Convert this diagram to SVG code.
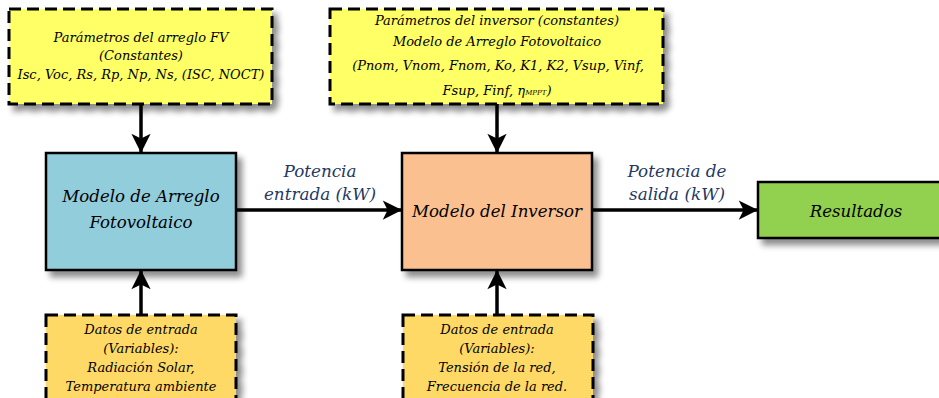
<svg xmlns="http://www.w3.org/2000/svg" width="939" height="398" viewBox="0 0 939 398">
<defs>
<filter id="sh" x="-10%" y="-10%" width="130%" height="140%">
<feGaussianBlur in="SourceAlpha" stdDeviation="3"/>
<feOffset dx="5" dy="6" result="b"/>
<feComponentTransfer><feFuncA type="linear" slope="0.45"/></feComponentTransfer>
<feMerge><feMergeNode/><feMergeNode in="SourceGraphic"/></feMerge>
</filter>
<marker id="ah" viewBox="0 0 10 10" refX="10" refY="5" markerWidth="6" markerHeight="5.5" markerUnits="strokeWidth" orient="auto">
<path d="M0,0 L10,5 L0,10 L2.5,5 Z" fill="#000"/>
</marker>
<style>
text{font-family:'DejaVu Serif','Liberation Serif',serif;font-style:italic;text-anchor:middle}
.s{font-size:13px;fill:#000}
.m{font-size:16.6px;fill:#000}
.lbl{fill:#1F3864;font-size:16.8px}
.dash{stroke:#000;stroke-width:3;stroke-dasharray:12 6}
.solid{stroke:#000;stroke-width:2.5}
.c{stroke:#000;stroke-width:3.5;fill:none;marker-end:url(#ah)}
</style>
</defs>
<rect width="939" height="398" fill="#fff"/>
<g id="pv-params">
<rect x="9" y="9" width="263" height="95" fill="#FFFF66" class="dash" filter="url(#sh)"/>
<text class="s" x="141" y="42">Parámetros del arreglo FV</text>
<text class="s" x="141" y="60">(Constantes)</text>
<text class="s" x="141" y="79">Isc, Voc, Rs, Rp, Np, Ns, (ISC, NOCT)</text>
</g>
<g id="inv-params">
<rect x="330" y="9" width="333" height="95" fill="#FFFF66" class="dash" filter="url(#sh)"/>
<text class="s" x="497" y="25">Parámetros del inversor (constantes)</text>
<text class="s" x="497" y="46">Modelo de Arreglo Fotovoltaico</text>
<text class="s" x="498" y="70">(Pnom, Vnom, Fnom, Ko, K1, K2, Vsup, Vinf,</text>
<text class="s" x="497" y="95">Fsup, Finf, η<tspan font-size="7">MPPT</tspan>)</text>
</g>
<g id="pv-model">
<rect x="46" y="153" width="190" height="117" fill="#92CDDC" class="solid" filter="url(#sh)"/>
<text class="m" x="141" y="202">Modelo de Arreglo</text>
<text class="m" x="141" y="228">Fotovoltaico</text>
</g>
<g id="inv-model">
<rect x="402" y="153" width="190" height="117" fill="#FAC090" class="solid" filter="url(#sh)"/>
<text class="m" x="497" y="217">Modelo del Inversor</text>
</g>
<g id="results">
<rect x="758" y="182" width="190" height="56" fill="#92D050" class="solid" filter="url(#sh)"/>
<text class="m" x="856" y="217">Resultados</text>
</g>
<g id="pv-inputs">
<rect x="46" y="315" width="190" height="95" fill="#FFD966" class="dash" filter="url(#sh)"/>
<text class="s" x="141" y="334">Datos de entrada</text>
<text class="s" x="141" y="353">(Variables):</text>
<text class="s" x="141" y="372">Radiación Solar,</text>
<text class="s" x="141" y="391">Temperatura ambiente</text>
</g>
<g id="inv-inputs">
<rect x="403" y="315" width="190" height="95" fill="#FFD966" class="dash" filter="url(#sh)"/>
<text class="s" x="497" y="334">Datos de entrada</text>
<text class="s" x="497" y="353">(Variables):</text>
<text class="s" x="497" y="372">Tensión de la red,</text>
<text class="s" x="497" y="391">Frecuencia de la red.</text>
</g>
<g id="connectors">
<line class="c" x1="141" y1="104" x2="141" y2="153"/>
<line class="c" x1="497" y1="104" x2="497" y2="153"/>
<line class="c" x1="141" y1="315" x2="141" y2="270"/>
<line class="c" x1="497" y1="315" x2="497" y2="270"/>
<line class="c" x1="236" y1="210" x2="402" y2="210"/>
<line class="c" x1="592" y1="210" x2="758" y2="210"/>
<text class="lbl" x="320" y="177">Potencia</text>
<text class="lbl" x="320" y="200">entrada (kW)</text>
<text class="lbl" x="677" y="177">Potencia de</text>
<text class="lbl" x="677" y="200">salida (kW)</text>
</g>
</svg>
